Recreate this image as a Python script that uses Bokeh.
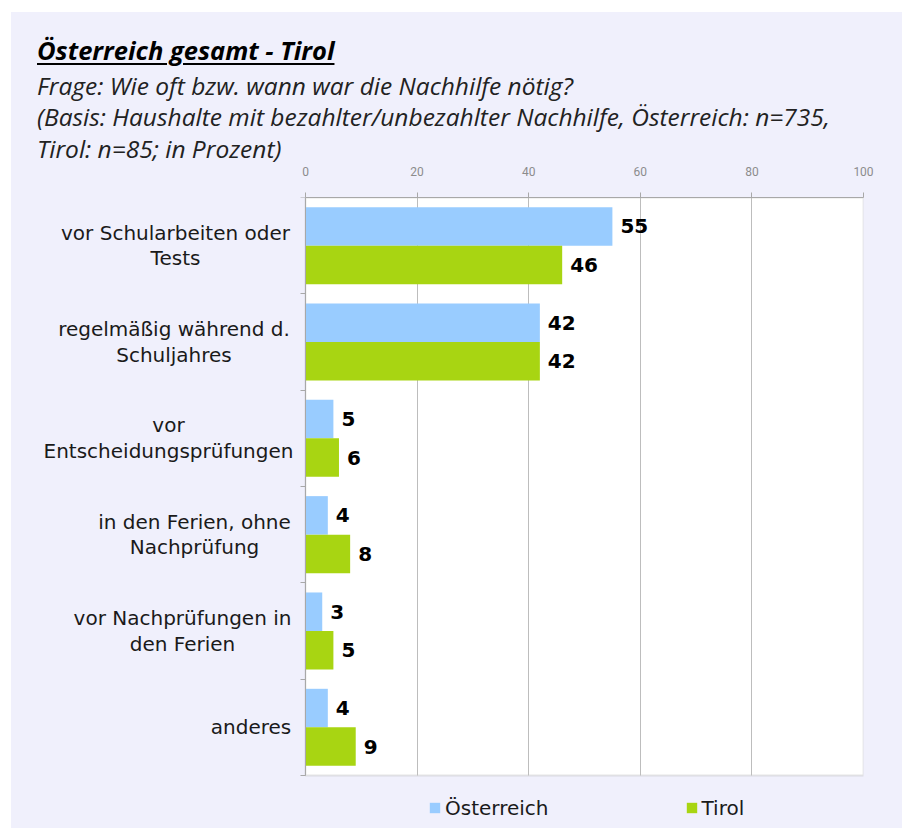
from bokeh.plotting import figure
from bokeh.models import (Range1d, FixedTicker, Legend, LegendItem,
                          ColumnDataSource, Div, BoxAnnotation)
from bokeh.layouts import column
from bokeh.core.properties import value
from bokeh.embed import file_html
from bokeh.resources import INLINE

# ---------------- data ----------------
categories = [
    "vor Schularbeiten oder\nTests",
    "regelmäßig während d.\nSchuljahres",
    "vor\nEntscheidungsprüfungen",
    "in den Ferien, ohne\nNachprüfung",
    "vor Nachprüfungen in\nden Ferien",
    "anderes",
]
oesterreich = [55, 42, 5, 4, 3, 4]
tirol = [46, 42, 6, 8, 5, 9]
series_names = ["Österreich", "Tirol"]
x_ticks = [0, 20, 40, 60, 80, 100]

title_text = "Österreich gesamt - Tirol"
subtitle_lines = [
    "Frage: Wie oft bzw. wann war die Nachhilfe nötig?",
    "(Basis: Haushalte mit bezahlter/unbezahlter Nachhilfe, Österreich: n=735,",
    "Tirol: n=85; in Prozent)",
]

# ---------------- styling / layout ----------------
BG = "#f0f0fc"
BLUE = "#99ccff"
GREEN = "#a8d512"
GRID = "#bdbdbd"
AXIS = "#a8a8a8"

OX, OY = 11, 12            # page offset of the lavender panel
DIV_H = 150
W, H = 902 - OX, 828 - OY - DIV_H
FIG_TOP = OY + DIV_H       # page y of the figure's top edge

# page pixel positions of the plot area (value axis 0..100, 6 groups)
PA_L, PA_R, PA_T, PA_B = 305, 863, 197, 775
MB_L = 12                  # left border (holds the fixed-location y axis panel)
FRAME_L = OX + MB_L
FRAME_B = 828
px_per_x = (PA_R - PA_L) / 100.0
px_per_y = (PA_B - PA_T) / len(categories)

def page_x(px):            # page pixel -> data x
    return (px - PA_L) / px_per_x

# ---------------- header (title + question) ----------------
def line_div(text, top, size, weight, underline=False, color="#222"):
    deco = "underline" if underline else "none"
    return (f'<div style="position:absolute;left:26px;top:{top}px;'
            f'font-family:\'Open Sans\';font-style:italic;font-weight:{weight};'
            f'font-size:{size}px;line-height:{size}px;color:{color};'
            f'text-decoration:{deco};text-decoration-thickness:2px;'
            f'text-underline-offset:3px;white-space:nowrap;">{text}</div>')

html = '<div style="position:relative;width:880px;height:%dpx;">' % DIV_H
html += line_div(title_text, 25.5, 25.5, 700, underline=True, color="#000")
for k, ln in enumerate(subtitle_lines):
    html += line_div(ln, 61.5 + 31.5 * k, 24.5, 400)
html += "</div>"
header = Div(text=html, width=W, height=DIV_H,
             styles={"background-color": BG, "margin": "0", "padding": "0"})

# ---------------- chart ----------------
p = figure(width=W, height=H, output_backend="svg", toolbar_location=None,
           x_range=Range1d(page_x(FRAME_L), 100),
           y_range=Range1d((FRAME_B - PA_T) / px_per_y, 0),
           x_axis_location="above",
           min_border_left=MB_L, min_border_right=902 - PA_R,
           min_border_top=PA_T - FIG_TOP, min_border_bottom=0)
p.background_fill_color = BG
p.border_fill_color = BG
p.outline_line_color = None

# white plot area with grey border
p.add_layout(BoxAnnotation(left=0, right=100, top=0, bottom=len(categories),
                           fill_color="white", fill_alpha=1,
                           line_color=AXIS, line_width=1.8, level="image"))

# vertical grid lines, limited to the plot area
g = p.xgrid[0]
g.ticker = FixedTicker(ticks=x_ticks)
g.grid_line_color = GRID
if "cross_bounds" in g.properties():
    g.cross_bounds = (0, len(categories))
else:
    g.visible = False
    p.segment(x0=x_ticks, x1=x_ticks, y0=[0] * len(x_ticks),
              y1=[len(categories)] * len(x_ticks), line_color=GRID)
p.ygrid.grid_line_color = None

idx = list(range(len(categories)))
src_a = ColumnDataSource(dict(y=[i + 0.3 for i in idx], v=oesterreich,
                              t=[str(v) for v in oesterreich]))
src_t = ColumnDataSource(dict(y=[i + 0.7 for i in idx], v=tirol,
                              t=[str(v) for v in tirol]))

r_a = p.hbar(y="y", left=0, right="v", height=0.4, source=src_a,
             fill_color=BLUE, line_color=None)
r_t = p.hbar(y="y", left=0, right="v", height=0.4, source=src_t,
             fill_color=GREEN, line_color=None)

for s in (src_a, src_t):
    p.text(x="v", y="y", text="t", source=s, x_offset=8,
           text_baseline="middle", text_align="left",
           text_font=value("DejaVu Sans"), text_font_style="bold",
           text_font_size="20px", text_color="black")

# category labels (multi-line, centred lines, block right-aligned near axis)
label_centres_px = [175, 173.5, 168, 194, 182, 250.5]
p.text(x=[page_x(c) for c in label_centres_px], y=[i + 0.5 for i in idx],
       text=categories, text_align="center", text_baseline="middle",
       text_font=value("DejaVu Sans"), text_font_size="20px",
       text_line_height=1.07, text_color="#1a1a1a")

# top value axis
xa = p.xaxis[0]
xa.ticker = FixedTicker(ticks=x_ticks)
xa.bounds = (0, 100)
xa.axis_line_color = AXIS
xa.major_tick_line_color = AXIS
xa.major_tick_out = 5
xa.major_tick_in = 0
xa.minor_tick_line_color = None
xa.major_label_text_color = "#8c8c8c"
xa.major_label_text_font = "Roboto"
xa.major_label_text_font_size = "12px"
xa.major_label_standoff = 17

# left category axis at x = 0: small ticks at the group boundaries
ya = p.yaxis[0]
ya.fixed_location = 0
ya.bounds = (0, len(categories))
ya.ticker = FixedTicker(ticks=list(range(len(categories) + 1)))
ya.major_label_overrides = {i: "" for i in range(len(categories) + 1)}
ya.axis_line_color = AXIS
ya.major_tick_line_color = AXIS
ya.major_tick_out = 5
ya.major_tick_in = 0
ya.minor_tick_line_color = None
ya.major_label_standoff = 0

# legend under the plot area
LEG_H = 23
legend = Legend(items=[LegendItem(label=series_names[0], renderers=[r_a]),
                       LegendItem(label=series_names[1], renderers=[r_t])],
                location=(428 - FRAME_L, (FRAME_B - 808) - LEG_H / 2),
                orientation="horizontal", glyph_width=13, glyph_height=13,
                label_height=LEG_H, label_standoff=4, spacing=136,
                padding=0, margin=0,
                border_line_alpha=0, background_fill_alpha=0,
                label_text_font="DejaVu Sans", label_text_font_size="20px",
                label_text_color="#1a1a1a")
p.add_layout(legend, "center")

layout = column(header, p, spacing=0,
                styles={"margin-left": f"{OX}px", "margin-top": f"{OY}px",
                        "background-color": BG})

open("out.html", "w").write(file_html(layout, INLINE))
